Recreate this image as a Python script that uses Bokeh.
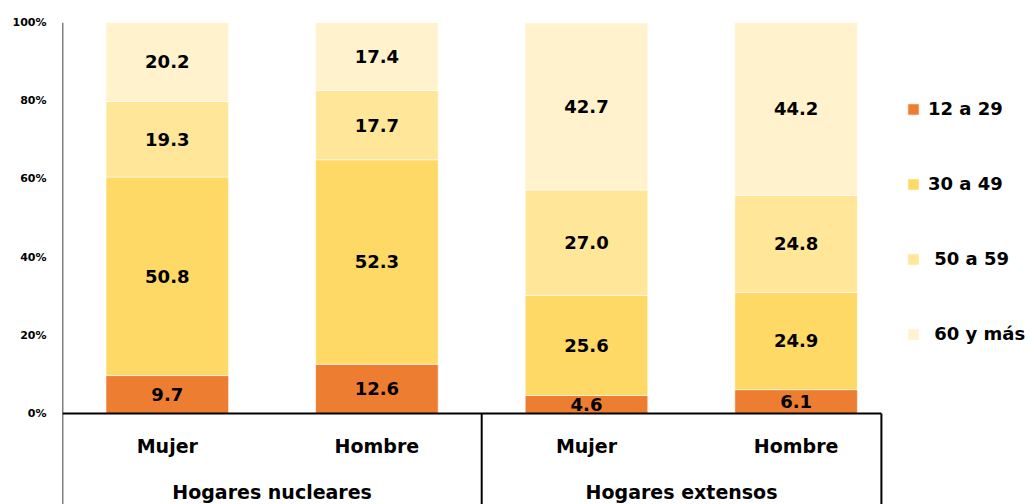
from bokeh.plotting import figure
from bokeh.models import Range1d, FixedTicker, ColumnDataSource, Legend, LegendItem, Label
from bokeh.embed import file_html
from bokeh.resources import INLINE
from bokeh.core.properties import value
import numpy as np

# ---- data ----
title_text = "2014"
groups = ["Hogares nucleares", "Hogares extensos"]
sexes = ["Mujer", "Hombre", "Mujer", "Hombre"]
age_groups = ["12 a 29", "30 a 49", " 50 a 59", " 60 y más"]
v_12_29 = [9.7, 12.6, 4.6, 6.1]
v_30_49 = [50.8, 52.3, 25.6, 24.9]
v_50_59 = [19.3, 17.7, 27.0, 24.8]
v_60_mas = [20.2, 17.4, 42.7, 44.2]
y_ticks = [0, 20, 40, 60, 80, 100]
y_tick_labels = ["0%", "20%", "40%", "60%", "80%", "100%"]

colors = ["#ED7D31", "#FFD966", "#FFE699", "#FFF2CC"]
FONT = "DejaVu Sans"

W, H = 1028, 504
top_border, left_border = 22, 62
px_y = 3.91
px_x = 209.6
y_start = 100 - (H - top_border) / px_y
x_end = (W - left_border) / px_x

p = figure(width=W, height=H, output_backend="svg", toolbar_location=None,
           x_range=Range1d(0, x_end), y_range=Range1d(y_start, 100),
           x_axis_location=None, min_border_left=left_border, min_border_right=0,
           min_border_top=top_border, min_border_bottom=0)
p.outline_line_color = None
p.xgrid.visible = False
p.ygrid.visible = False
p.background_fill_color = "white"
p.border_fill_color = "white"

x = np.arange(len(sexes)) + 0.5
series = [v_12_29, v_30_49, v_50_59, v_60_mas]
keys = ["a", "b", "c", "d"]
data = {"x": x}
for k, s in zip(keys, series):
    data[k] = s
src = ColumnDataSource(data)
rs = p.vbar_stack(keys, x="x", width=0.585, source=src, fill_color=colors,
                  line_color="white", line_width=0.6)

# data labels
lx, ly, lt = [], [], []
cum = np.zeros(len(sexes))
for s in series:
    s = np.array(s)
    for i in range(len(sexes)):
        lx.append(x[i]); ly.append(cum[i] + s[i] / 2); lt.append(f"{s[i]:.1f}")
    cum += s
p.text(x=lx, y=ly, text=lt, text_font=value(FONT), text_font_style="bold",
       text_font_size="18px", text_align="center", text_baseline="middle",
       text_color="black")

# category box
box_right = 3.907
p.segment(x0=[0], y0=[100], x1=[0], y1=[y_start], line_color="black", line_width=1.5)
p.segment(x0=[0, 2, box_right], y0=[0, 0, 0], x1=[box_right, 2, box_right],
          y1=[0, y_start, y_start], line_color="black", line_width=2)

p.text(x=x, y=[-8.2] * 4, text=sexes, text_font=value(FONT), text_font_style="bold",
       text_font_size="19px", text_align="center", text_baseline="middle",
       text_color="black")
p.text(x=[1.0, (2 + box_right) / 2], y=[-19.95] * 2, text=groups, text_font=value(FONT),
       text_font_style="bold", text_font_size="19px", text_align="center",
       text_baseline="middle", text_color="black")

# y axis
ax = p.yaxis[0]
ax.ticker = FixedTicker(ticks=y_ticks)
ax.major_label_overrides = {t: l for t, l in zip(y_ticks, y_tick_labels)}
ax.axis_line_color = None
ax.major_tick_line_color = None
ax.minor_tick_line_color = None
ax.major_label_standoff = 10
ax.major_label_text_font = FONT
ax.major_label_text_font_style = "bold"
ax.major_label_text_font_size = "11px"
ax.major_label_text_color = "black"

# title at the very top, cut off by the top edge as in the reference
p.add_layout(Label(x=-61, y=H - 3, x_units="screen", y_units="screen",
                   text=title_text, text_font=FONT, text_font_style="bold",
                   text_font_size="20px", text_baseline="alphabetic",
                   text_color="black"))

legend = Legend(items=[LegendItem(label=lab, renderers=[r]) for lab, r in zip(age_groups, rs)],
                location=(844, 160), orientation="vertical", padding=0, margin=0,
                spacing=54, glyph_width=14, glyph_height=14, label_height=20,
                label_standoff=8, border_line_color=None, background_fill_alpha=0,
                label_text_font=FONT, label_text_font_style="bold",
                label_text_font_size="18px", label_text_color="black")
p.add_layout(legend, "center")

open("out.html", "w").write(file_html(p, INLINE))
